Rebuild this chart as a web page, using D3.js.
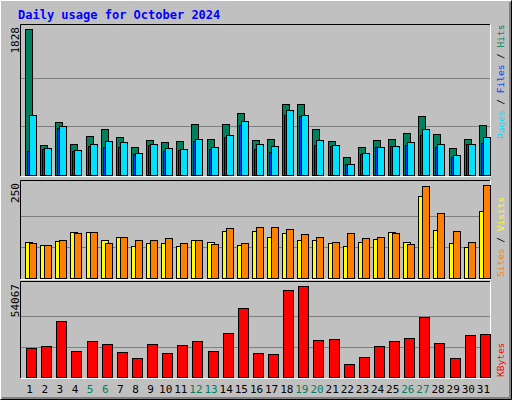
<!DOCTYPE html>
<html><head><meta charset="utf-8">
<script src="https://cdn.jsdelivr.net/npm/d3@7"></script>
<style>body{margin:0;background:#fff}text{font-family:"DejaVu Sans Mono",monospace}</style>
</head><body><div id="chart"></div>
<script>
// daily values
const days = d3.range(1, 32);
const weekend = [5, 6, 12, 13, 19, 20, 26, 27];
const hits = [1828,373,659,385,485,572,473,348,435,410,423,634,448,634,771,435,448,895,883,572,423,224,348,435,448,522,734,510,336,448,622];
const files = [746,336,609,311,385,423,410,274,385,336,323,448,348,497,671,385,361,808,746,435,373,137,274,348,361,410,572,385,249,385,473];
const pages = [298,323,584,298,361,348,348,261,373,298,311,423,323,473,622,323,286,746,734,373,361,137,261,348,361,373,497,348,224,385,398];
const visits = [95,89,103,122,125,95,111,103,103,108,95,103,92,135,95,138,138,133,119,111,97,122,108,111,122,92,247,176,127,97,250];
const sites = [97,89,100,125,125,103,111,86,95,95,86,103,97,127,89,127,111,122,103,103,95,86,97,105,125,97,220,130,95,84,179];
const kbytes = [17230,18419,33272,15448,21389,19607,14854,11289,19607,14260,19013,21389,15448,26143,40996,14260,13665,51691,54067,21983,22578,7724,11883,18419,21389,23172,35649,20201,11289,24954,25548];

const W = 512, H = 400;
const svg = d3.select("#chart").append("svg").attr("width", W).attr("height", H);

// background with bevel
svg.append("rect").attr("width", W).attr("height", H).attr("fill", "#c0c0c0");
svg.append("path").attr("d", `M0.5,${H-0.5}V0.5H${W-0.5}`).attr("stroke", "#fff").attr("fill", "none");
svg.append("path").attr("d", `M0.5,${H-0.5}H${W-0.5}V0.5`).attr("stroke", "#000").attr("fill", "none");
svg.append("path").attr("d", `M2,${H-2}H${W-2}V2`).attr("stroke", "#808080").attr("stroke-width", 2).attr("fill", "none");

svg.append("text").attr("x", 18).attr("y", 19).attr("fill", "#0000ff")
    .attr("font-weight", "bold").attr("font-size", 12).text("Daily usage for October 2024");

const x = d3.scaleBand().domain(days).range([21, 490]).paddingInner(0);

function panel(y0, y1, max) {
    svg.append("path").attr("d", `M20.5,${y1}V${y0+0.5}H491`).attr("stroke", "#000").attr("fill", "none");
    svg.append("path").attr("d", `M20.5,${y1+0.5}H490.5V${y0}`).attr("stroke", "#fff").attr("fill", "none");
    const y = d3.scaleLinear().domain([0, max]).range([y1 - 1, y0 + 5]);
    [max / 3, 2 * max / 3].forEach(v => {
        svg.append("line").attr("x1", 21).attr("x2", 490)
            .attr("y1", Math.round(y(v)) + 0.5).attr("y2", Math.round(y(v)) + 0.5)
            .attr("stroke", "#808080");
    });
    svg.append("text").attr("transform", `translate(19,${y0 + 3}) rotate(-90)`)
        .attr("text-anchor", "end").attr("font-size", 11).attr("fill", "#000").text(max);
    return y;
}

function bars(data, y, dx, w, color) {
    svg.append("g").selectAll("rect").data(data).enter().append("rect")
        .attr("x", (d, i) => Math.round(x(days[i])) + dx + 0.5)
        .attr("y", d => Math.round(y(d)) + 0.5)
        .attr("width", w)
        .attr("height", d => Math.round(y(0)) - Math.round(y(d)))
        .attr("fill", color).attr("stroke", "#000");
}

// hits / files / pages
const y1 = panel(24, 176, 1828);
bars(hits, y1, 4, 7, "#00805c");
bars(pages, y1, 6, 4, "#0040ff");
bars(files, y1, 8, 7, "#00e0ff");

// sites / visits
const y2 = panel(180, 279, 250);
bars(sites, y2, 4, 7, "#ffff00");
bars(visits, y2, 8, 7, "#ff8000");

// kbytes
const y3 = panel(281, 378, 54067);
bars(kbytes, y3, 5, 10, "#ff0000");

// day labels
svg.append("g").selectAll("text").data(days).enter().append("text")
    .attr("x", d => x(d) + x.bandwidth() / 2 + 1).attr("y", 393)
    .attr("text-anchor", "middle").attr("font-size", 11)
    .attr("fill", d => weekend.includes(d) ? "#00805c" : "#000").text(d => d);

// right side legends
function legend(yb, parts) {
    const t = svg.append("text").attr("transform", `translate(504,${yb}) rotate(-90)`)
        .attr("font-size", 9.5).attr("xml:space", "preserve").style("white-space", "pre");
    parts.forEach(p => t.append("tspan").attr("fill", p[1]).text(p[0]));
}
legend(139, [["Pages", "#00e0ff"], [" / ", "#000"], ["Files", "#0040ff"], [" / ", "#000"], ["Hits", "#00805c"]]);
legend(277, [["Sites", "#ff8000"], [" / ", "#000"], ["Visits", "#ffff00"]]);
legend(377, [["KBytes", "#ff0000"]]);
</script></body></html>
